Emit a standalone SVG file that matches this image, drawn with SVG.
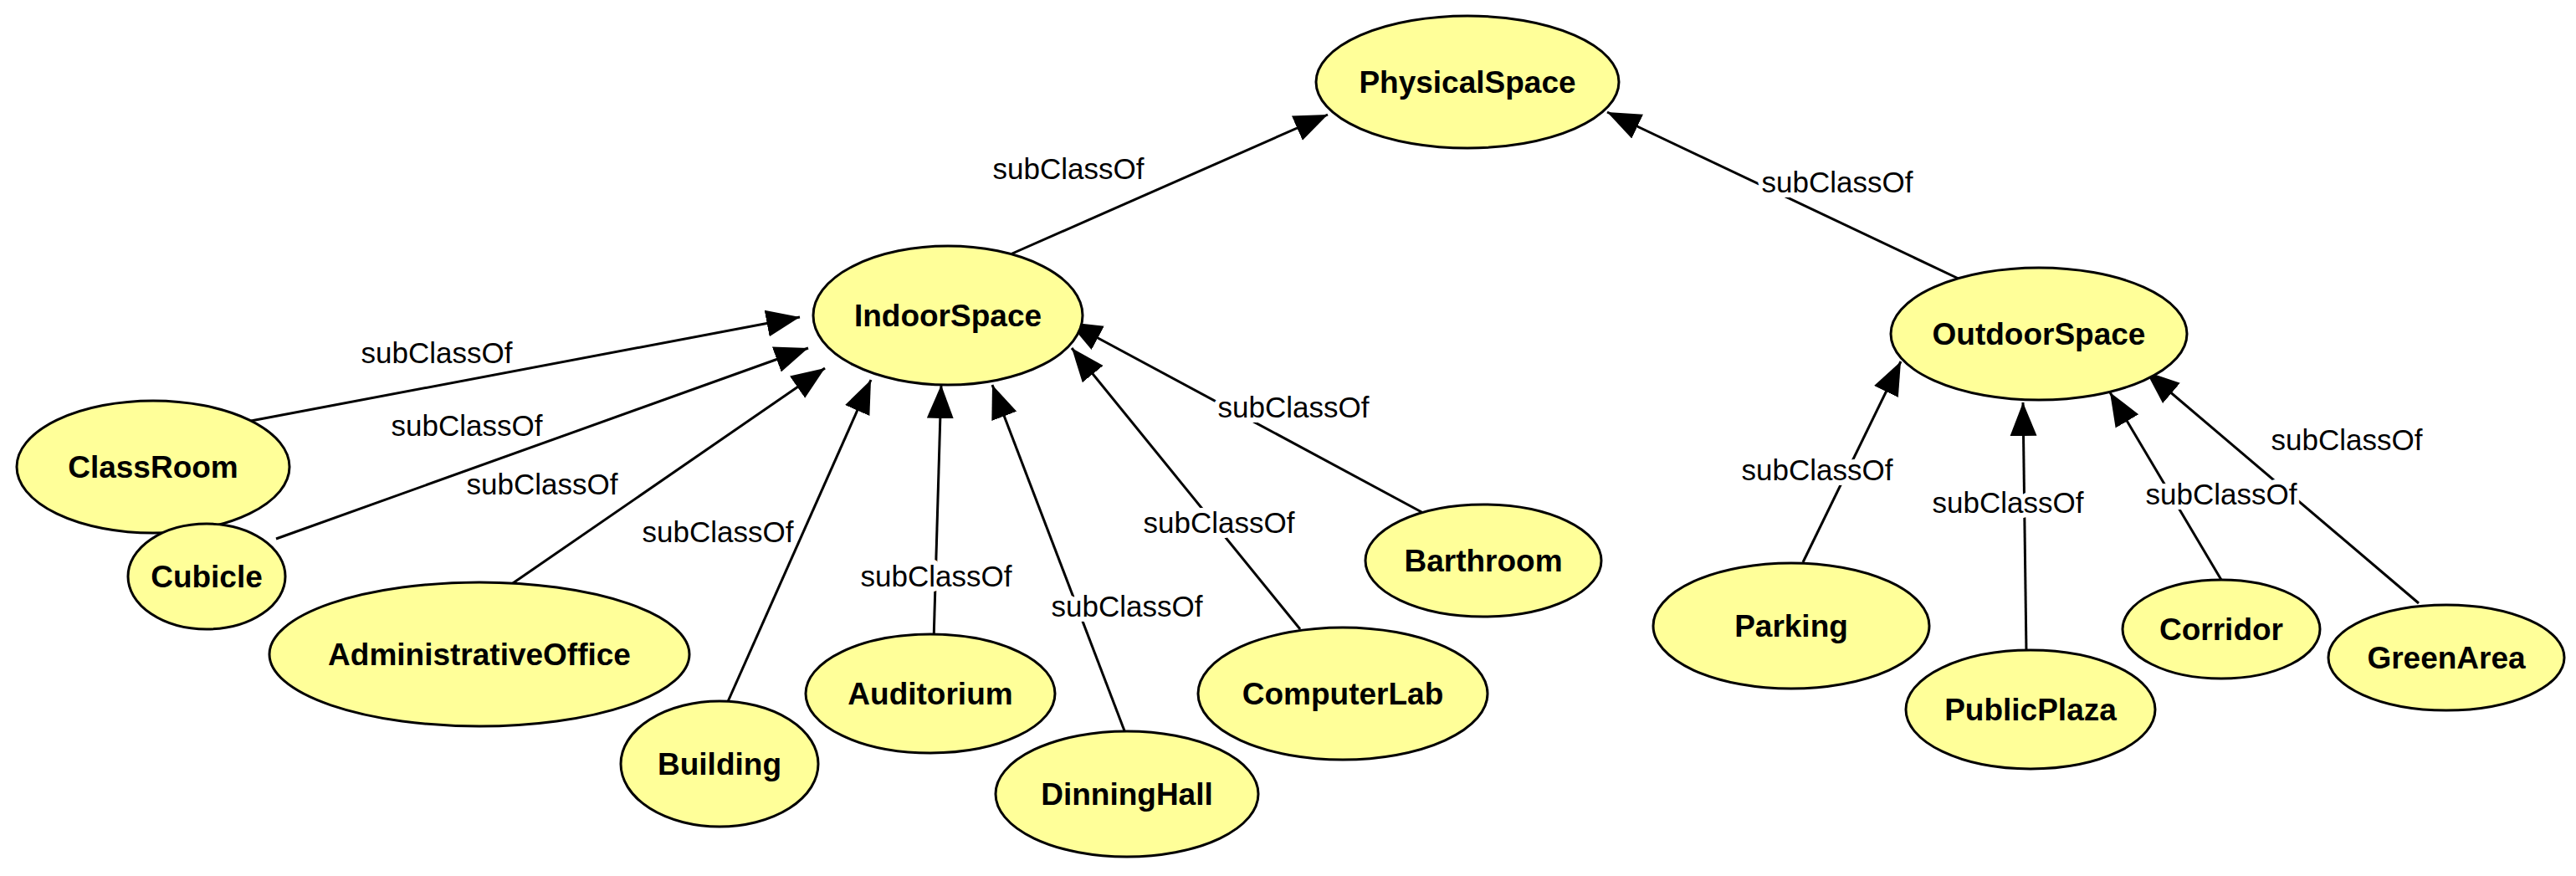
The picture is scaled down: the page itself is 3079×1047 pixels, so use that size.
<svg xmlns="http://www.w3.org/2000/svg" width="3079" height="1047" viewBox="0 0 3079 1047">
<style>
.n ellipse{fill:#ffff99;stroke:#000;stroke-width:3}
.n text{font-family:"Liberation Sans",Arial,sans-serif;font-weight:bold;font-size:37px;text-anchor:middle;fill:#000}
.e line{stroke:#000;stroke-width:3;marker-end:url(#a)}
.e text{font-family:"Liberation Sans",Arial,sans-serif;font-size:35px;text-anchor:middle;fill:#000;stroke:#fff;stroke-width:12px;paint-order:stroke;stroke-linejoin:round}
</style>
<defs><marker id="a" markerUnits="userSpaceOnUse" markerWidth="40" markerHeight="40" viewBox="0 0 30 24" refX="30" refY="12" orient="auto"><path d="M0,0 L30,12 L0,24 Z" fill="#000"/></marker></defs>
<rect width="3079" height="1047" fill="#fff"/>
<g id="connectors" class="e">
<line x1="1194" y1="310" x2="1587" y2="137"/>
<line x1="2343" y1="334" x2="1921" y2="134"/>
<line x1="300" y1="503" x2="956" y2="379"/>
<line x1="330" y1="644" x2="966" y2="416"/>
<line x1="613" y1="697" x2="986" y2="440"/>
<line x1="864" y1="852" x2="1041" y2="454"/>
<line x1="1116" y1="766" x2="1125" y2="460"/>
<line x1="1345" y1="876" x2="1186" y2="460"/>
<line x1="1554" y1="752" x2="1281" y2="416"/>
<line x1="1701" y1="613" x2="1277" y2="385"/>
<line x1="2155" y1="672" x2="2272" y2="432"/>
<line x1="2422" y1="780" x2="2418" y2="481"/>
<line x1="2655" y1="693" x2="2522" y2="469"/>
<line x1="2891" y1="721" x2="2565" y2="444"/>
<text x="1277" y="214">subClassOf</text>
<text x="2196" y="230">subClassOf</text>
<text x="522" y="434">subClassOf</text>
<text x="558" y="521">subClassOf</text>
<text x="648" y="591">subClassOf</text>
<text x="858" y="648">subClassOf</text>
<text x="1119" y="701">subClassOf</text>
<text x="1347" y="737">subClassOf</text>
<text x="1457" y="637">subClassOf</text>
<text x="1546" y="499">subClassOf</text>
<text x="2172" y="574">subClassOf</text>
<text x="2400" y="613">subClassOf</text>
<text x="2655" y="603">subClassOf</text>
<text x="2805" y="538">subClassOf</text>
</g>
<g id="PhysicalSpace" class="n"><ellipse cx="1754" cy="98" rx="181" ry="79"/><text x="1754" y="111">PhysicalSpace</text></g>
<g id="IndoorSpace" class="n"><ellipse cx="1133" cy="377" rx="161" ry="83"/><text x="1133" y="390">IndoorSpace</text></g>
<g id="OutdoorSpace" class="n"><ellipse cx="2437" cy="399" rx="177" ry="79"/><text x="2437" y="412">OutdoorSpace</text></g>
<g id="ClassRoom" class="n"><ellipse cx="183" cy="558" rx="163" ry="79"/><text x="183" y="571">ClassRoom</text></g>
<g id="Cubicle" class="n"><ellipse cx="247" cy="689" rx="94" ry="63"/><text x="247" y="702">Cubicle</text></g>
<g id="AdministrativeOffice" class="n"><ellipse cx="573" cy="782" rx="251" ry="86"/><text x="573" y="795">AdministrativeOffice</text></g>
<g id="Building" class="n"><ellipse cx="860" cy="913" rx="118" ry="75"/><text x="860" y="926">Building</text></g>
<g id="Auditorium" class="n"><ellipse cx="1112" cy="829" rx="149" ry="71"/><text x="1112" y="842">Auditorium</text></g>
<g id="DinningHall" class="n"><ellipse cx="1347" cy="949" rx="157" ry="75"/><text x="1347" y="962">DinningHall</text></g>
<g id="ComputerLab" class="n"><ellipse cx="1605" cy="829" rx="173" ry="79"/><text x="1605" y="842">ComputerLab</text></g>
<g id="Barthroom" class="n"><ellipse cx="1773" cy="670" rx="141" ry="67"/><text x="1773" y="683">Barthroom</text></g>
<g id="Parking" class="n"><ellipse cx="2141" cy="748" rx="165" ry="75"/><text x="2141" y="761">Parking</text></g>
<g id="PublicPlaza" class="n"><ellipse cx="2427" cy="848" rx="149" ry="71"/><text x="2427" y="861">PublicPlaza</text></g>
<g id="Corridor" class="n"><ellipse cx="2655" cy="752" rx="118" ry="59"/><text x="2655" y="765">Corridor</text></g>
<g id="GreenArea" class="n"><ellipse cx="2924" cy="786" rx="141" ry="63"/><text x="2924" y="799">GreenArea</text></g>
</svg>
